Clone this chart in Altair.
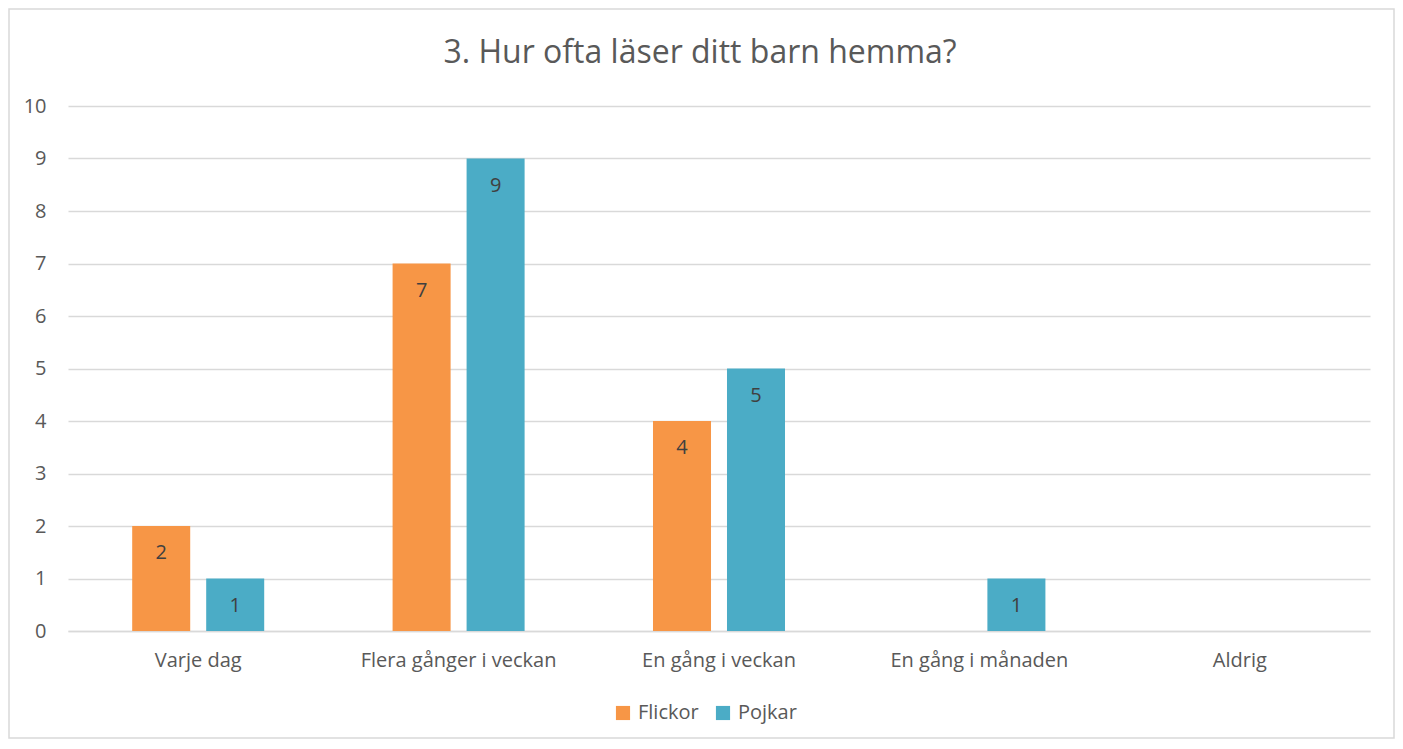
import altair as alt
import pandas as pd

categories = ["Varje dag", "Flera gånger i veckan", "En gång i veckan", "En gång i månaden", "Aldrig"]
series = ["Flickor", "Pojkar"]
flickor = [2, 7, 4, 0, 0]
pojkar = [1, 9, 5, 1, 0]
colors = ["#F79646", "#4BACC6"]
title = "3. Hur ofta läser ditt barn hemma?"

rows = []
for c, f, p in zip(categories, flickor, pojkar):
    rows.append({"cat": c, "serie": "Flickor", "val": f})
    rows.append({"cat": c, "serie": "Pojkar", "val": p})
df = pd.DataFrame(rows)

W, H = 1302, 525
FONT = "Open Sans"
FS = 20

x_enc = alt.X("cat:N", sort=categories, title=None,
              scale=alt.Scale(paddingInner=0, paddingOuter=0),
              axis=alt.Axis(labelAngle=0, labelFontSize=FS, labelColor="#595959", labelFont=FONT,
                            ticks=False, domainColor="#D9D9D9", domainWidth=1.5, labelPadding=19,
                            labelLimit=500, grid=False))
xoff = alt.XOffset("serie:N", sort=series,
                   scale=alt.Scale(paddingInner=0.216, paddingOuter=0.8675))
y_enc = alt.Y("val:Q", title=None,
              scale=alt.Scale(domain=[0, 10]),
              axis=alt.Axis(values=list(range(0, 11)), labelFontSize=FS, labelColor="#595959",
                            labelFont=FONT, ticks=False, domain=False, gridColor="#D9D9D9",
                            gridWidth=1.5, labelPadding=22))

bars = alt.Chart(df).mark_bar(stroke=None).encode(
    x=x_enc, xOffset=xoff, y=y_enc,
    color=alt.Color("serie:N", sort=series, title=None,
                    scale=alt.Scale(domain=series, range=colors),
                    legend=alt.Legend(orient="none", legendX=545, legendY=597, direction="horizontal",
                                      symbolType="square", symbolSize=200, symbolStrokeWidth=0,
                                      labelFontSize=FS, labelColor="#595959", labelFont=FONT,
                                      columnPadding=14, symbolOffset=0, labelOffset=5))
)

texts = alt.Chart(df).transform_filter("datum.val > 0").mark_text(
    dy=27, fontSize=FS, color="#404040", font=FONT, baseline="middle"
).encode(x=alt.X("cat:N", sort=categories), xOffset=alt.XOffset("serie:N", sort=series), y="val:Q",
         text="val:Q")

border = alt.Chart(pd.DataFrame({"a": [0]})).mark_rect(
    fill=None, stroke="#D9D9D9", strokeWidth=1.5
).encode(x=alt.value(-59), x2=alt.value(W + 24), y=alt.value(-97), y2=alt.value(H + 107))

chart = alt.layer(border, bars, texts).properties(
    width=W, height=H,
    title=alt.TitleParams(title, fontSize=32, color="#595959", font=FONT, fontWeight="normal",
                          anchor="middle", offset=-62, dx=-19),
    autosize=alt.AutoSizeParams(type="none"),
    padding={"left": 60, "top": 98, "right": 25, "bottom": 110},
).configure_view(stroke=None)

chart.save("out.html", embed_options={"renderer": "svg", "actions": False})
